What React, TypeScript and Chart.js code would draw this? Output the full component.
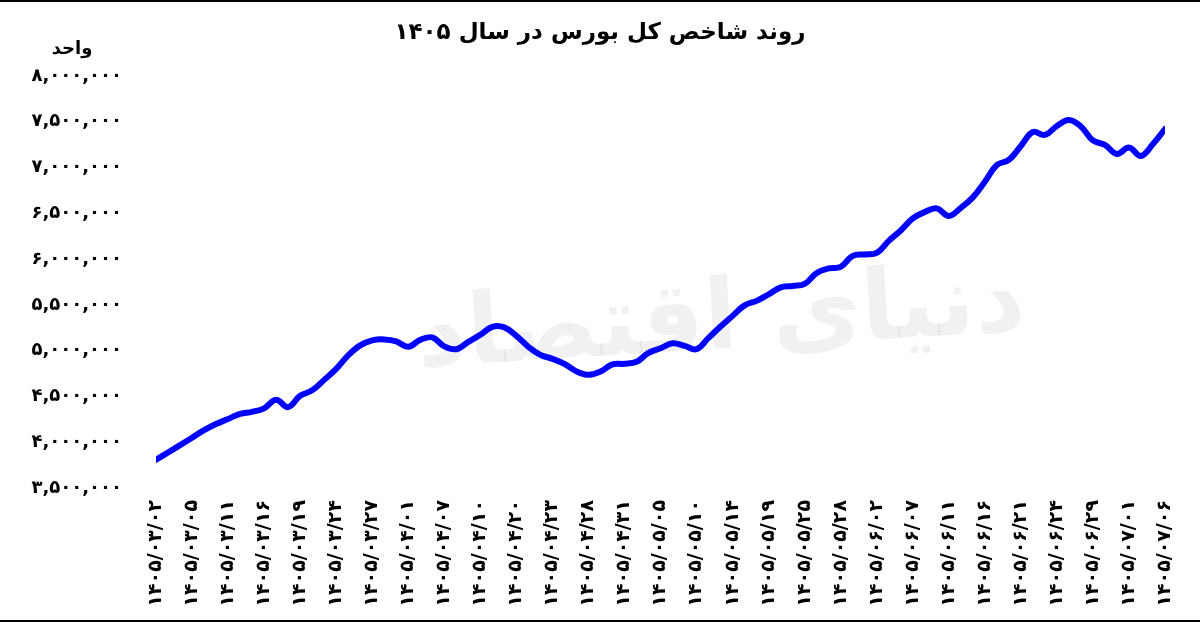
import { useEffect, useRef } from "react";
import { Chart, registerables } from "chart.js";

Chart.register(...registerables);

// تاریخ‌هایی که زیر محور افقی نوشته شده‌اند
const dateLabels = [
  "۱۴۰۵/۰۳/۰۲", "۱۴۰۵/۰۳/۰۵", "۱۴۰۵/۰۳/۱۱", "۱۴۰۵/۰۳/۱۶", "۱۴۰۵/۰۳/۱۹",
  "۱۴۰۵/۰۳/۲۴", "۱۴۰۵/۰۳/۲۷", "۱۴۰۵/۰۴/۰۱", "۱۴۰۵/۰۴/۰۷", "۱۴۰۵/۰۴/۱۰",
  "۱۴۰۵/۰۴/۲۰", "۱۴۰۵/۰۴/۲۳", "۱۴۰۵/۰۴/۲۸", "۱۴۰۵/۰۴/۳۱", "۱۴۰۵/۰۵/۰۵",
  "۱۴۰۵/۰۵/۱۰", "۱۴۰۵/۰۵/۱۴", "۱۴۰۵/۰۵/۱۹", "۱۴۰۵/۰۵/۲۵", "۱۴۰۵/۰۵/۲۸",
  "۱۴۰۵/۰۶/۰۲", "۱۴۰۵/۰۶/۰۷", "۱۴۰۵/۰۶/۱۱", "۱۴۰۵/۰۶/۱۶", "۱۴۰۵/۰۶/۲۱",
  "۱۴۰۵/۰۶/۲۴", "۱۴۰۵/۰۶/۲۹", "۱۴۰۵/۰۷/۰۱", "۱۴۰۵/۰۷/۰۶",
];

// three trading days per labelled date
const pointsPerLabel = 3;

// index level, one value per trading day
const indexValues = [
  3808000, 3888000, 3968000,
  4049000, 4131000, 4199000,
  4254000, 4310000, 4332000,
  4370000, 4463000, 4383000,
  4507000, 4567000, 4681000,
  4801000, 4949000, 5058000,
  5113000, 5123000, 5102000,
  5042000, 5118000, 5145000,
  5047000, 5016000, 5096000,
  5173000, 5260000, 5254000,
  5162000, 5042000, 4954000,
  4911000, 4856000, 4774000,
  4736000, 4772000, 4850000,
  4856000, 4878000, 4976000,
  5027000, 5080000, 5052000,
  5016000, 5140000, 5263000,
  5380000, 5495000, 5544000,
  5615000, 5691000, 5707000,
  5729000, 5849000, 5899000,
  5915000, 6035000, 6051000,
  6068000, 6199000, 6313000,
  6444000, 6515000, 6554000,
  6472000, 6559000, 6674000,
  6845000, 7028000, 7083000,
  7236000, 7389000, 7356000,
  7454000, 7520000, 7449000,
  7296000, 7247000, 7149000,
  7219000, 7127000, 7258000,
  7421000,
];

const yMin = 3500000;
const yMax = 8000000;
const yStep = 500000;

const titleText = "روند شاخص کل بورس در سال ۱۴۰۵";
const unitText = "واحد";
const watermarkText = "دنیای اقتصاد";

const FONT = "'DejaVu Sans', sans-serif";
const persianDigits = "۰۱۲۳۴۵۶۷۸۹";

function toPersian(s: string) {
  return s.replace(/[0-9]/g, (d) => persianDigits[Number(d)]);
}

const watermarkPlugin = {
  id: "watermark",
  beforeDatasetsDraw(chart: Chart) {
    const { ctx, chartArea } = chart;
    ctx.save();
    ctx.font = `bold 98px ${FONT}`;
    ctx.fillStyle = "rgba(0, 0, 0, 0.055)";
    ctx.textAlign = "center";
    ctx.textBaseline = "middle";
    const cx = chartArea.left + (chartArea.right - chartArea.left) * 0.56;
    const cy = chartArea.top + (chartArea.bottom - chartArea.top) * 0.6;
    ctx.translate(cx, cy);
    ctx.rotate(-0.06);
    ctx.fillText(watermarkText, 0, 0);
    ctx.restore();
  },
};

// title centred on the whole canvas, unit label above the y ticks
const headerPlugin = {
  id: "header",
  afterDraw(chart: Chart) {
    const { ctx, chartArea } = chart;
    ctx.save();
    ctx.fillStyle = "#000";
    ctx.textAlign = "center";
    ctx.textBaseline = "middle";
    ctx.font = `bold 23px ${FONT}`;
    ctx.fillText(titleText, chart.width / 2, chartArea.top - 43);
    ctx.font = `bold 18px ${FONT}`;
    ctx.fillText(unitText, chartArea.left - 84, chartArea.top - 27);
    ctx.restore();
  },
};

export default function App() {
  const chartRef = useRef<HTMLCanvasElement>(null);
  const chartInstance = useRef<Chart | null>(null);

  useEffect(() => {
    document.body.style.margin = "0";
    if (!chartRef.current) return;

    if (chartInstance.current) {
      chartInstance.current.destroy();
    }

    const ctx = chartRef.current.getContext("2d");
    if (!ctx) return;

    const points = indexValues.map((v, i) => ({ x: i / pointsPerLabel, y: v }));

    chartInstance.current = new Chart(ctx, {
      type: "line",
      data: {
        datasets: [
          {
            label: "شاخص کل",
            data: points,
            borderColor: "#0000ff",
            backgroundColor: "#0000ff",
            borderWidth: 6,
            borderCapStyle: "round",
            borderJoinStyle: "round",
            pointRadius: 0,
            tension: 0.4,
            fill: false,
          },
        ],
      },
      options: {
        responsive: true,
        maintainAspectRatio: false,
        animation: false,
        layout: {
          padding: { left: 0, right: 35, top: 76, bottom: 10 },
        },
        plugins: {
          legend: { display: false },
          tooltip: { enabled: false },
          title: { display: false },
        },
        scales: {
          x: {
            type: "linear",
            min: 0,
            max: dateLabels.length - 1,
            grid: { display: false, drawTicks: false },
            border: { display: false },
            afterFit: (scale: any) => {
              scale.height = 128;
            },
            ticks: {
              stepSize: 1,
              autoSkip: false,
              maxRotation: 90,
              minRotation: 90,
              padding: 12,
              color: "#000",
              font: { family: FONT, size: 19, weight: "bold" },
              callback: (value: any) => dateLabels[Number(value)] ?? "",
            },
          },
          y: {
            min: yMin,
            max: yMax,
            grid: { display: false, drawTicks: false },
            border: { display: false },
            afterFit: (scale: any) => {
              scale.width = 156;
            },
            ticks: {
              stepSize: yStep,
              padding: 34,
              color: "#000",
              font: { family: FONT, size: 18, weight: "bold" },
              callback: (value: any) =>
                toPersian(Number(value).toLocaleString("en-US")),
            },
          },
        },
      },
      plugins: [watermarkPlugin, headerPlugin],
    });

    return () => {
      if (chartInstance.current) {
        chartInstance.current.destroy();
        chartInstance.current = null;
      }
    };
  }, []);

  return (
    <div style={{ position: "relative", width: 1200, height: 626, background: "#fff" }}>
      <div style={{ position: "absolute", left: 0, top: 0, width: 1200, height: 2, background: "#000" }} />
      <div style={{ position: "absolute", left: 0, top: 620, width: 1200, height: 2, background: "#000" }} />
      <canvas ref={chartRef} />
    </div>
  );
}
